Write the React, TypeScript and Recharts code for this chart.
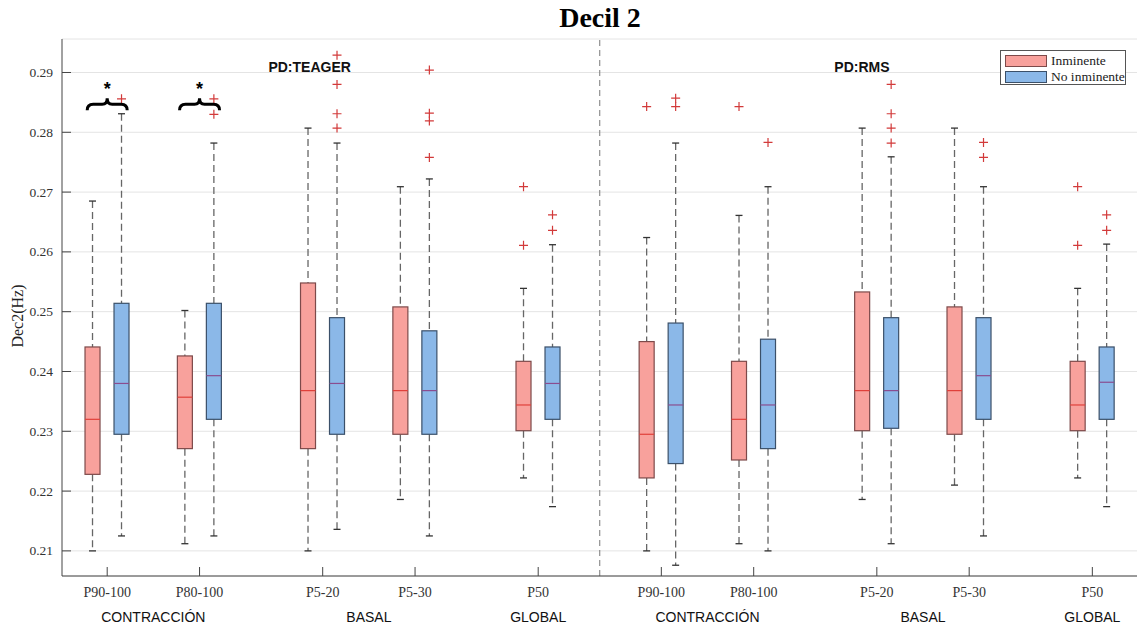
import { ComposedChart, Bar, XAxis, YAxis, CartesianGrid, ReferenceLine, ReferenceDot } from "recharts";

// x positions of the boxes (two families of five, divider at 5)
const categories = ["P90-100", "P80-100", "P5-20", "P5-30", "P50", "P90-100", "P80-100", "P5-20", "P5-30", "P50"];
const positions = [1, 1.75, 2.75, 3.5, 4.5, 5.5, 6.25, 7.25, 8, 9];
const groupLabels = ["CONTRACCIÓN", "BASAL", "GLOBAL", "CONTRACCIÓN", "BASAL", "GLOBAL"];
const groupPositions = [1.375, 3.125, 4.5, 5.875, 7.625, 9];
const yTicks = [0.21, 0.22, 0.23, 0.24, 0.25, 0.26, 0.27, 0.28, 0.29];

// Inminente
const inmMin = [0.21, 0.2112, 0.21, 0.2186, 0.2222, 0.21, 0.2112, 0.2186, 0.221, 0.2222];
const inmQ1 = [0.2228, 0.2271, 0.2271, 0.2295, 0.2301, 0.2222, 0.2252, 0.2301, 0.2295, 0.2301];
const inmMed = [0.232, 0.2357, 0.2368, 0.2368, 0.2344, 0.2295, 0.232, 0.2368, 0.2368, 0.2344];
const inmQ3 = [0.2441, 0.2426, 0.2548, 0.2508, 0.2417, 0.245, 0.2417, 0.2533, 0.2508, 0.2417];
const inmMax = [0.2685, 0.2502, 0.2807, 0.2709, 0.2539, 0.2624, 0.2661, 0.2807, 0.2807, 0.2539];
const inmOut = [[], [], [], [], [0.2709, 0.2611], [0.2843], [0.2843], [], [], [0.2709, 0.2611]];

// No inminente
const noiMin = [0.2125, 0.2125, 0.2136, 0.2125, 0.2174, 0.2076, 0.21, 0.2112, 0.2125, 0.2174];
const noiQ1 = [0.2295, 0.232, 0.2295, 0.2295, 0.232, 0.2246, 0.2271, 0.2305, 0.232, 0.232];
const noiMed = [0.238, 0.2393, 0.238, 0.2368, 0.238, 0.2344, 0.2344, 0.2368, 0.2393, 0.2382];
const noiQ3 = [0.2514, 0.2514, 0.249, 0.2468, 0.2441, 0.2481, 0.2454, 0.249, 0.249, 0.2441];
const noiMax = [0.2831, 0.2782, 0.2782, 0.2722, 0.2612, 0.2782, 0.2709, 0.2759, 0.2709, 0.2613];
const noiOut = [
  [0.2856], [0.2856, 0.283], [0.2929, 0.288, 0.2831, 0.2807], [0.2904, 0.2832, 0.2819, 0.2758], [0.2662, 0.2636],
  [0.2857, 0.2843], [0.2783], [0.288, 0.2831, 0.2807, 0.2782], [0.2783, 0.2758], [0.2662, 0.2636],
];

const xDomain = [0.633, 9.379];
const yDomain = [0.2058, 0.2956];
const bottomTicks = Array.from(new Set([...positions, ...groupPositions])).sort((a, b) => a - b);

const SERIF = "'Liberation Serif', 'Times New Roman', serif";
const SANS = "'Liberation Sans', Arial, sans-serif";
const AXIS = "#444";

const RED = { fill: "#f8a19c", stroke: "#7d4a4a", median: "#e0403a" };
const BLUE = { fill: "#8bb8e8", stroke: "#3b5069", median: "#8a4d8f" };

type Box = { min: number; q1: number; med: number; q3: number; max: number; out: number[]; lo: number; hi: number };

function makeBox(min: number, q1: number, med: number, q3: number, max: number, out: number[]): Box {
  return { min, q1, med, q3, max, out, lo: Math.min(min, ...out), hi: Math.max(max, ...out) };
}

const data = positions.map((pos, i) => ({
  pos,
  label: categories[i],
  inm: makeBox(inmMin[i], inmQ1[i], inmMed[i], inmQ3[i], inmMax[i], inmOut[i]),
  noi: makeBox(noiMin[i], noiQ1[i], noiMed[i], noiQ3[i], noiMax[i], noiOut[i]),
}));

// the bar spans [lo, hi]; every other value is placed inside it on the same linear scale
const boxShape = (key: "inm" | "noi", c: typeof RED) => (props: any) => {
  const { x, y, width, height, payload } = props;
  const b: Box = payload[key];
  const py = (v: number) => y + ((b.hi - v) / (b.hi - b.lo)) * height;
  const cx = x + width / 2;
  return (
    <g>
      <line x1={cx} x2={cx} y1={py(b.max)} y2={py(b.q3)} stroke="#666" strokeWidth={1.3} strokeDasharray="7 4" />
      <line x1={cx} x2={cx} y1={py(b.q1)} y2={py(b.min)} stroke="#666" strokeWidth={1.3} strokeDasharray="7 4" />
      <line x1={cx - 3.5} x2={cx + 3.5} y1={py(b.max)} y2={py(b.max)} stroke="#333" strokeWidth={1.3} />
      <line x1={cx - 3.5} x2={cx + 3.5} y1={py(b.min)} y2={py(b.min)} stroke="#333" strokeWidth={1.3} />
      <rect x={x} y={py(b.q3)} width={width} height={py(b.q1) - py(b.q3)} fill={c.fill} stroke={c.stroke} strokeWidth={1.2} />
      <line x1={x} x2={x + width} y1={py(b.med)} y2={py(b.med)} stroke={c.median} strokeWidth={1.2} />
      {b.out.map((v, k) => (
        <path key={k} d={`M${cx - 4.5},${py(v)}H${cx + 4.5}M${cx},${py(v) - 4.5}V${py(v) + 4.5}`} stroke="#d23a3a" strokeWidth={1.2} />
      ))}
    </g>
  );
};

const near = (a: number, b: number) => Math.abs(a - b) < 0.001;

const BottomTick = (p: any) => {
  const v = p.payload.value;
  const ci = positions.findIndex((q) => near(q, v));
  const gi = groupPositions.findIndex((q) => near(q, v));
  return (
    <g>
      {ci >= 0 && <line x1={p.x} x2={p.x} y1={p.y} y2={p.y - 9} stroke={AXIS} />}
      {ci >= 0 && (
        <text x={p.x} y={p.y + 20.5} textAnchor="middle" fontFamily={SERIF} fontSize={14} fill="#333">{categories[ci]}</text>
      )}
      {gi >= 0 && (
        <text x={p.x} y={p.y + 46} textAnchor="middle" fontFamily={SANS} fontSize={14} fill="#111">{groupLabels[gi]}</text>
      )}
    </g>
  );
};

const TopTick = (p: any) => <line x1={p.x} x2={p.x} y1={p.y} y2={p.y + 9} stroke={AXIS} />;

const LeftTick = (p: any) => (
  <g>
    <line x1={p.x} x2={p.x + 9} y1={p.y} y2={p.y} stroke={AXIS} />
    <text x={p.x - 9} y={p.y + 4.5} textAnchor="end" fontFamily={SERIF} fontSize={13.5} fill="#333">
      {p.payload.value.toFixed(2)}
    </text>
  </g>
);

const RightTick = (p: any) => <line x1={p.x} x2={p.x - 9} y1={p.y} y2={p.y} stroke={AXIS} />;

const Brace = (p: any) => {
  const { cx, cy } = p;
  const d = `M${cx - 20},${cy + 6} Q${cx - 20},${cy} ${cx - 14},${cy} L${cx - 5},${cy} Q${cx},${cy} ${cx},${cy - 6} Q${cx},${cy} ${cx + 5},${cy} L${cx + 14},${cy} Q${cx + 20},${cy} ${cx + 20},${cy + 6}`;
  return (
    <g>
      <path d={d} fill="none" stroke="#000" strokeWidth={3} />
      <text x={cx} y={cy - 9} textAnchor="middle" fontFamily={SANS} fontWeight="bold" fontSize={18}>*</text>
    </g>
  );
};

const PanelTitle = (text: string) => (p: any) => (
  <text x={p.cx} y={p.cy + 5} textAnchor="middle" fontFamily={SANS} fontWeight="bold" fontSize={14} fill="#111">{text}</text>
);

export default function App() {
  return (
    <div style={{ position: "absolute", left: 0, top: 0, width: 1137, height: 630, overflow: "hidden", background: "#fff" }}>
      <div style={{ position: "absolute", left: 500, top: 4, width: 200, textAlign: "center", fontFamily: SERIF, fontWeight: "bold", fontSize: 28, lineHeight: "28px", color: "#000" }}>
        Decil 2
      </div>
      <div style={{ position: "absolute", left: 18, top: 316, transform: "translate(-50%, -50%) rotate(-90deg)", fontFamily: SERIF, fontSize: 16, color: "#222", whiteSpace: "nowrap" }}>
        Dec2(Hz)
      </div>
      <ComposedChart width={1139} height={630} data={data} margin={{ top: 39, right: 0, bottom: 0, left: 0 }} barGap={14}>
        <CartesianGrid vertical={false} stroke="#e4e4e4" />
        <XAxis type="number" dataKey="pos" domain={xDomain} ticks={bottomTicks} allowDataOverflow
          height={54} tickSize={0} tickMargin={0} stroke={AXIS} tick={BottomTick} interval={0} />
        <XAxis xAxisId="t" orientation="top" type="number" dataKey="pos" domain={xDomain} ticks={positions} allowDataOverflow
          height={0} tickSize={0} tickMargin={0} stroke={AXIS} tick={TopTick} interval={0} />
        <YAxis domain={yDomain} ticks={yTicks} allowDataOverflow width={62} tickSize={0} tickMargin={0} stroke={AXIS} tick={LeftTick} interval={0} />
        <YAxis yAxisId="r" orientation="right" domain={yDomain} ticks={yTicks} allowDataOverflow width={0} tickSize={0} tickMargin={0} axisLine={false} stroke={AXIS} tick={RightTick} interval={0} />
        <ReferenceLine x={5} stroke="#777" strokeDasharray="6 4" />
        <Bar dataKey={(d: any) => [d.inm.lo, d.inm.hi]} barSize={15} shape={boxShape("inm", RED)} isAnimationActive={false} />
        <Bar dataKey={(d: any) => [d.noi.lo, d.noi.hi]} barSize={15} shape={boxShape("noi", BLUE)} isAnimationActive={false} />
        <ReferenceDot x={1} y={0.2847} r={0} ifOverflow="visible" shape={Brace} />
        <ReferenceDot x={1.75} y={0.2847} r={0} ifOverflow="visible" shape={Brace} />
        <ReferenceDot x={2.644} y={0.2909} r={0} ifOverflow="visible" shape={PanelTitle("PD:TEAGER")} />
        <ReferenceDot x={7.129} y={0.2909} r={0} ifOverflow="visible" shape={PanelTitle("PD:RMS")} />
      </ComposedChart>
      <div style={{ position: "absolute", left: 1000, top: 50, width: 126, height: 35, border: "1px solid #555", background: "#fff", boxSizing: "border-box", fontFamily: SERIF, fontSize: 13.5, color: "#222" }}>
        {[["Inminente", RED], ["No inminente", BLUE]].map(([name, c]: any, i) => (
          <div key={i} style={{ position: "absolute", left: 4, top: 3 + i * 16, height: 13, display: "flex", alignItems: "center" }}>
            <span style={{ display: "inline-block", width: 42, height: 12, background: c.fill, border: `1px solid ${c.stroke}`, boxSizing: "border-box" }} />
            <span style={{ marginLeft: 4, lineHeight: "13px" }}>{name}</span>
          </div>
        ))}
      </div>
    </div>
  );
}
